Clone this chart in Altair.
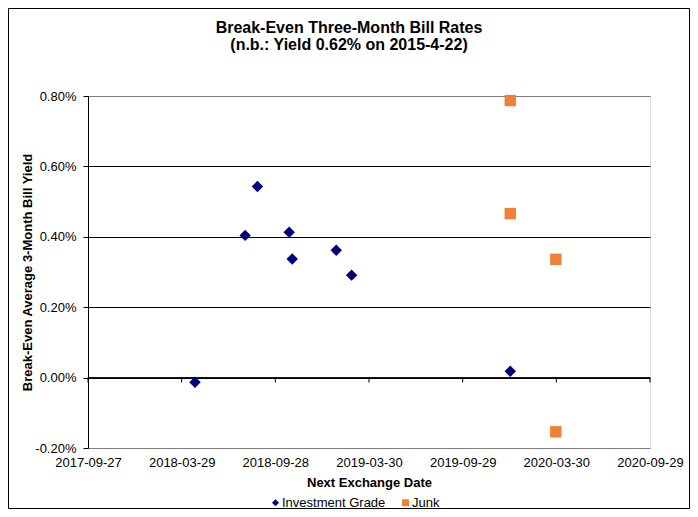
import altair as alt
import pandas as pd

# ---- data ----
ig_dates = ["2018-04-24", "2018-07-31", "2018-08-24", "2018-10-25",
            "2018-10-31", "2019-01-25", "2019-02-24", "2019-12-31"]
ig_yields = [-0.013, 0.404, 0.543, 0.413, 0.337, 0.362, 0.291, 0.018]   # percent

junk_dates = ["2019-12-31", "2019-12-31", "2020-03-29", "2020-03-29"]
junk_yields = [0.787, 0.466, 0.336, -0.154]                               # percent

tick_dates = ["2017-09-27", "2018-03-29", "2018-09-28", "2019-03-30",
              "2019-09-29", "2020-03-30", "2020-09-29"]
y_ticks = [-0.2, 0.0, 0.2, 0.4, 0.6, 0.8]

series_names = ["Investment Grade", "Junk"]
series_colors = ["#000080", "#F07F38"]
series_shapes = ["diamond", "square"]

FONT = "Liberation Sans"

points = pd.DataFrame({
    "date": ig_dates + junk_dates,
    "yield": ig_yields + junk_yields,
    "series": [series_names[0]] * len(ig_dates) + [series_names[1]] * len(junk_dates),
})
ticks_df = pd.DataFrame({"date": tick_dates})
one_row = pd.DataFrame({"a": [0]})


def dt(s):
    y, m, d = (int(p) for p in s.split("-"))
    return alt.DateTime(year=y, month=m, date=d, utc=True)


x_scale = alt.Scale(type="utc", domain=[dt(tick_dates[0]), dt(tick_dates[-1])], nice=False)
y_scale = alt.Scale(domain=[y_ticks[0], y_ticks[-1]], nice=False, zero=False)

x_axis = alt.Axis(
    values=[dt(s) for s in tick_dates],
    labelExpr="utcFormat(datum.value, '%Y-%m-%d')",
    ticks=False, tickSize=0, domain=False, grid=False,
    labelFontSize=13, labelFont=FONT, labelColor="black", labelPadding=8,
    labelFlush=False, labelOverlap=False, labelBound=False,
    title="Next Exchange Date", titleFontSize=13, titleFont=FONT,
    titleFontWeight="bold", titleColor="black",
    titleY=38, titleBaseline="alphabetic",
)

y_axis = alt.Axis(
    values=y_ticks,
    labelExpr="(datum.value < -0.0001 ? '-' : '') + format(abs(datum.value), '.2f') + '%'",
    tickSize=5, tickColor="black", domainColor="black",
    grid=True,
    gridColor={"condition": {"test": "datum.value > 0.79 || datum.value < -0.19",
                             "value": "#808080"}, "value": "black"},
    gridOpacity=1, gridWidth=1,
    labelFontSize=13, labelFont=FONT, labelColor="black", labelPadding=7,
    title="Break-Even Average 3-Month Bill Yield", titleFontSize=13, titleFont=FONT,
    titleFontWeight="bold", titleColor="black",
    titleX=-57, titleY=176, titleAlign="center", titleBaseline="alphabetic", titleAngle=270,
)

pts = alt.Chart(points).mark_point(filled=True, size=130, opacity=1, strokeWidth=0).encode(
    x=alt.X("date:T", scale=x_scale, axis=x_axis),
    y=alt.Y("yield:Q", scale=y_scale, axis=y_axis),
    color=alt.Color("series:N", scale=alt.Scale(domain=series_names, range=series_colors),
                    legend=alt.Legend(orient="none", legendX=181, legendY=400,
                                      direction="horizontal", title=None,
                                      symbolSize=49, symbolStrokeWidth=0,
                                      labelFontSize=13, labelFont=FONT, labelColor="black",
                                      labelOffset=0, columnPadding=13, padding=0)),
    shape=alt.Shape("series:N", scale=alt.Scale(domain=series_names, range=series_shapes)),
)

zero_line = alt.Chart(one_row).mark_rule(color="black", strokeWidth=1).encode(
    y=alt.datum(0.0)
)

xticks = alt.Chart(ticks_df).mark_tick(
    orient="vertical", size=5, thickness=1, yOffset=2.5, color="black", opacity=1
).encode(
    x=alt.X("date:T", scale=x_scale),
    y=alt.datum(0.0),
)

frame = alt.Chart(one_row).mark_rect(fillOpacity=0, stroke="black", strokeWidth=1).encode(
    x=alt.value(-79.5), x2=alt.value(601.5), y=alt.value(-87.5), y2=alt.value(412.5)
)

chart = alt.layer(pts, zero_line, xticks, frame).properties(
    width=562, height=352,
    autosize=alt.AutoSizeParams(type="none"),
    padding={"left": 80, "top": 88, "right": 40, "bottom": 61},
    title=alt.TitleParams(
        text=["Break-Even Three-Month Bill Rates", "(n.b.: Yield 0.62% on 2015-4-22)"],
        fontSize=16, font=FONT, fontWeight="bold", color="black",
        anchor="middle", frame="bounds", offset=-45, lineHeight=17,
    ),
).configure_view(stroke="#808080", strokeWidth=1).configure(background="white")

chart.save("out.html", embed_options={"renderer": "svg", "actions": False})
